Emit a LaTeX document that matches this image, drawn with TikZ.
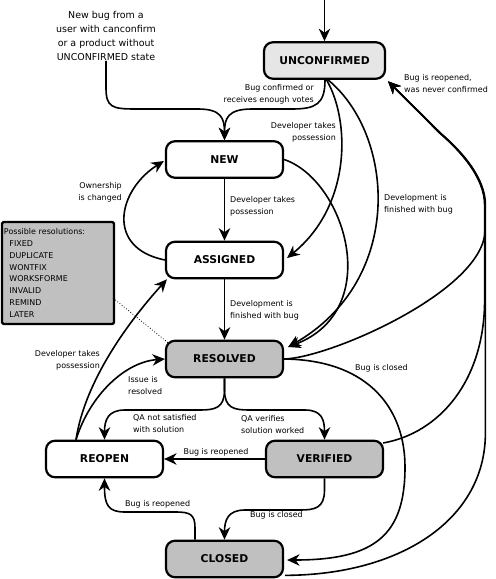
\documentclass[tikz,border=0pt]{standalone}
\usepackage{fontspec}
\setmainfont{DejaVu Sans}
\usetikzlibrary{arrows.meta,calc}
\definecolor{lightfill}{HTML}{E6E6E6}
\definecolor{darkfill}{HTML}{C0C0C0}
\begin{document}
\begin{tikzpicture}[x=1bp,y=-1bp,
  statebox/.style={draw, line width=2.2bp, rounded corners=9bp, minimum width=117bp, minimum height=36.5bp, inner sep=0pt, font=\fontsize{10.8}{12}\selectfont\bfseries},
  conn/.style={line width=1.6bp, -{Stealth[length=12.5bp,width=11.5bp,inset=4bp]}},
  lbl/.style={inner sep=0pt, font=\fontsize{8}{12}\selectfont},
]
\useasboundingbox (0,0) rectangle (496,579);

% states
\node[statebox, fill=lightfill, minimum width=121bp] (unc) at (324.5,60.5) {UNCONFIRMED};
\node[statebox, fill=white] (new) at (224.5,159.5) {NEW};
\node[statebox, fill=white] (assigned) at (224.5,260) {ASSIGNED};
\node[statebox, fill=darkfill] (resolved) at (224.5,359) {RESOLVED};
\node[statebox, fill=white] (reopen) at (104.5,459) {REOPEN};
\node[statebox, fill=darkfill] (verified) at (324.5,459) {VERIFIED};
\node[statebox, fill=darkfill] (closed) at (224.5,559) {CLOSED};

% resolutions box
\node[draw, line width=2.2bp, rounded corners=1.5bp, fill=darkfill, minimum width=112bp, minimum height=102bp, text width=108bp, inner sep=2bp, align=left, font=\fontsize{8}{11.8}\selectfont] (resbox) at (58,273)
  {Possible resolutions:\\\hspace*{5.5bp}FIXED\\\hspace*{5.5bp}DUPLICATE\\\hspace*{5.5bp}WONTFIX\\\hspace*{5.5bp}WORKSFORME\\\hspace*{5.5bp}INVALID\\\hspace*{5.5bp}REMIND\\\hspace*{5.5bp}LATER};
\draw[dotted, line width=0.8bp] ([shift={(-2,-27)}]resbox.south east) -- ([shift={(3,3)}]resolved.north west);

% entry text
\node[inner sep=0pt, align=center, font=\fontsize{9.5}{14}\selectfont] (newtxt) at (106,36) {New bug from a\\user with canconfirm\\or a product without\\UNCONFIRMED state};
\coordinate (entry) at (324.5,0);

% connectors
\draw[conn] (entry) -- (unc.north);
\draw[conn] (newtxt.south) -- (106,88) .. controls (106,107) and (112,109) .. (135,109) -- (198,109) .. controls (221,109) and (224.5,118) .. (new.north);
\draw[conn] ([xshift=0.5bp]unc.south) .. controls (325,104) and (316,109) .. (292,109) -- (252,109) .. controls (228,109) and (224.5,118) .. (new.north);
\draw[conn] ([xshift=2bp]unc.south) .. controls (350,120) and (352,205) .. ([shift={(3,-2)}]assigned.east);
\draw[conn] ([xshift=3.5bp]unc.south) .. controls (395,135) and (405,280) .. ([shift={(4,-12)}]resolved.east);
\draw[conn] (new.east) .. controls (345,180) and (385,310) .. ([shift={(4,-12)}]resolved.east);
\draw[conn] (new.south) -- (assigned.north);
\draw[conn] (assigned.south) -- (resolved.north);
\draw[conn] (assigned.west) .. controls (105,248) and (118,190) .. ([shift={(-1,1.5)}]new.west);
\draw[conn] ([xshift=-28.5bp]reopen.north) .. controls (85,380) and (130,320) .. ([shift={(2,0)}]assigned.south west);
\draw[conn] ([xshift=-28.5bp]reopen.north) .. controls (90,395) and (125,362) .. (resolved.west);
\draw[conn] (resolved.south) -- (224.5,390) .. controls (224.5,408) and (215,410) .. (200,410) -- (125,410) .. controls (108,410) and (104.5,420) .. (reopen.north);
\draw[conn] (resolved.south) -- (224.5,390) .. controls (224.5,408) and (234,410) .. (249,410) -- (305,410) .. controls (322,410) and (324.5,420) .. (verified.north);
\draw[conn] (verified.west) -- (reopen.east);
\draw[conn] (verified.south) -- (324.5,490) .. controls (324.5,508) and (315,510) .. (300,510) -- (245,510) .. controls (228,510) and (224.5,520) .. (closed.north);
\draw[conn] ([xshift=-29.5bp]closed.north) -- (195,528) .. controls (195,514) and (190,512) .. (175,512) -- (125,512) .. controls (108,512) and (104.5,505) .. (reopen.south);
\draw[conn] (resolved.east) .. controls (370,360) and (405,410) .. (405,467) .. controls (405,535) and (375,560) .. ([shift={(3,1)}]closed.east);
% back to UNCONFIRMED
\draw[conn] ([shift={(1,-3)}]closed.south east) .. controls (400,575) and (485.4,520) .. (485.4,433) -- (485.4,205) .. controls (485.4,178) and (462.4,152) .. (440.4,133) -- ([shift={(2,1.5)}]unc.south east);
\draw[conn] ([shift={(-1,-16)}]verified.east) .. controls (440,433) and (484.6,380) .. (484.6,300) -- (484.6,205) .. controls (484.6,178) and (461.6,152) .. (439.6,133) -- ([shift={(2,1.5)}]unc.south east);
\draw[conn] (resolved.east) .. controls (330,358) and (485,290) .. (485,230) -- (485,205) .. controls (485,178) and (462,152) .. (440,133) -- ([shift={(2,1.5)}]unc.south east);

% labels
\node[lbl, anchor=east, align=right] (lconf) at (314,94) {Bug confirmed or\\receives enough votes};
\node[lbl, anchor=east, align=right] (ltake1) at (336,132) {Developer takes\\possession};
\node[lbl, anchor=west, align=left] (lfin1) at (384,204) {Development is\\finished with bug};
\node[lbl, anchor=west, align=left] (lnever) at (404,84) {Bug is reopened,\\was never confirmed};
\node[lbl, anchor=east, align=right] (lown) at (122,192) {Ownership\\is changed};
\node[lbl, anchor=west, align=left] (ltake2) at (230,206) {Developer takes\\possession};
\node[lbl, anchor=west, align=left] (lfin2) at (230,310) {Development is\\finished with bug};
\node[lbl, anchor=east, align=right] (ltake3) at (100,360) {Developer takes\\possession};
\node[lbl, anchor=west, align=left] (lissue) at (128,386) {Issue is\\resolved};
\node[lbl, anchor=west, align=left] (lqanot) at (133,424) {QA not satisfied\\with solution};
\node[lbl, anchor=west, align=left] (lqaok) at (241,425) {QA verifies\\solution worked};
\node[lbl] (lreop1) at (216,452.5) {Bug is reopened};
\node[lbl, anchor=west] (lclose1) at (250,515) {Bug is closed};
\node[lbl, anchor=west] (lreop2) at (125,504) {Bug is reopened};
\node[lbl, anchor=west] (lclose2) at (355,368) {Bug is closed};
\end{tikzpicture}
\end{document}
